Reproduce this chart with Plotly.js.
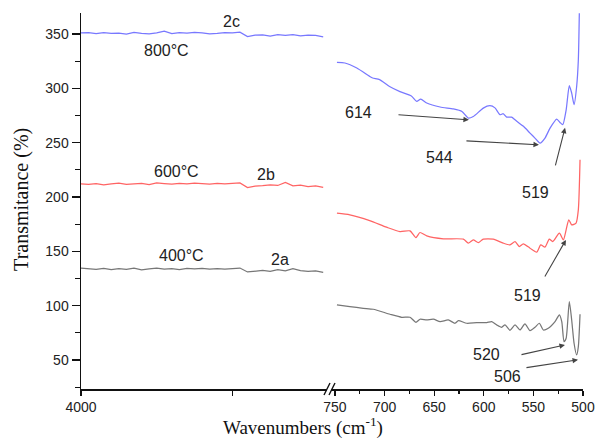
<!DOCTYPE html>
<html>
<head>
<meta charset="utf-8">
<script src="https://cdn.plot.ly/plotly-3.0.1.min.js"></script>
<style>html,body{margin:0;padding:0;background:#fff;}#chart{width:597px;height:441px;}</style>
</head>
<body>
<div id="chart"></div>
<script>
// ---- Left (compressed) segment: 4000 -> 800 cm-1 ----
const waveLeft = [4000,3900,3800,3700,3600,3500,3400,3300,3200,3100,3000,2900,2800,2700,2600,2500,2400,2300,2200,2100,2000,1900,1800,1700,1600,1500,1400,1300,1200,1100,1000,900,800];
const t800Left = [351.0,351.2,350.4,351.3,350.6,350.8,349.9,351.4,350.5,350.2,351.0,352.6,350.3,351.2,350.7,351.4,351.1,350.1,350.6,351.3,351.0,351.6,347.6,348.9,349.2,348.1,349.3,348.7,349.4,348.3,349.0,348.6,347.4];
const t600Left = [212.0,211.6,212.3,211.2,212.0,212.8,211.5,212.2,212.6,211.4,212.9,212.3,211.8,212.5,212.0,212.7,212.2,211.9,212.4,212.1,212.6,213.0,208.6,210.0,210.4,211.2,210.6,213.4,210.2,210.8,209.6,210.3,208.9];
const t400Left = [134.6,134.2,133.5,134.3,133.2,134.0,133.4,134.5,133.0,133.8,134.6,133.6,134.1,133.2,134.3,133.9,134.4,133.6,134.0,133.7,134.2,134.6,131.0,131.8,132.4,131.6,133.2,132.0,134.0,132.2,131.6,131.9,130.6];

// ---- Right (expanded) segment: 750 -> 500 cm-1 ----
const wave800R = [748,740,728,715,712,705,695,684.5,673,667.6,663.6,657.5,644,630.7,622,615.6,610.6,600.5,593.8,588.7,583.7,580.4,577,572,568.5,560,553.4,548.4,543.3,538.3,533.2,526.5,523.2,520.4,517,513.8,511.4,509,506.4,504.7,503.7];
const t800R =    [323.8,323.3,318.7,311,309.5,308,301.7,297,293,288,290,286.5,282.8,281,278.7,272.6,274,281.8,284,282,275.7,276.6,273.5,273.5,271,265,258.8,254.2,249.6,254.2,263.4,271.7,268.6,266.5,280,302.4,295.6,285,301.7,326,369];

const wave600R = [748,735,715,698,684.5,674.4,668.4,664.3,657.5,640.7,620.6,615.6,610.6,605.5,600.5,590.4,580.4,573.6,568.5,564.2,560.2,553.4,546.7,542.6,538.3,534,530.5,523.8,519.8,517,514.3,511.4,507,504.7,503];
const t600R =    [185.1,183.6,178.3,172.2,168.2,168.8,162.7,167.3,164.2,161.5,161.2,157.5,160.5,158,161.2,161.2,157.5,156,159,154.4,156.9,152.9,149.2,155.9,153.8,161.2,159,166.7,160.5,169.8,179,174.4,176,188.2,234.2];

const wave400R = [748,735,721.5,711.4,694.6,682.7,674.4,668.4,664.3,657.5,650.8,644,635.8,629,625.6,617.2,607.2,597.1,592,587,582,578.6,573.6,568.5,563.5,558.5,553.4,548.4,544,540,535,528.2,523.8,521.4,519.1,517,513.8,511.4,509,506.4,504.7,503];
const t400R =    [100.7,99.1,97.6,96.7,92.1,89.3,89.3,84.7,87.5,86.8,87.5,85.3,86.8,83.8,86.2,83.8,84.4,84.4,85.3,82.3,80.1,82.3,77.3,82.3,77.6,83.2,77,80.1,83.8,77.6,79.2,85.3,91.5,85.3,66.9,70,103.8,86.8,65.4,54.6,62.3,92];

// ---- Labels ----
const seriesLabels = [
  {text:'2c', x:2005, y:361.3}, {text:'800°C', x:2877, y:334.6},
  {text:'600°C', x:2732, y:223.2}, {text:'2b', x:1556, y:220.4},
  {text:'400°C', x:2666, y:145.8}, {text:'2a', x:1371, y:142.1}
];
const peakLabels = [
  {text:'614', x:725.8, y:277.5}, {text:'544', x:644.2, y:236},
  {text:'519', x:547.4, y:203.9}, {text:'519', x:555.5, y:109},
  {text:'520', x:596.8, y:54.6}, {text:'506', x:576.6, y:34.4}
];
const peakArrows = [
  {ax:687.5, ay:275.7, x:615, y:271},
  {ax:619, ay:251.7, x:544.4, y:248},
  {ax:528.2, ay:227.8, x:518.1, y:263.7},
  {ax:539.3, ay:125.5, x:517.2, y:160.5},
  {ax:563.5, ay:54.6, x:518.2, y:63.8},
  {ax:558.5, ay:42.8, x:505, y:50.2}
];

const cBlue = '#7878ff', cRed = '#ff6464', cGray = '#777777';
const lw = 1.25;
const traces = [
  {x:waveLeft, y:t800Left, xaxis:'x', yaxis:'y', mode:'lines', line:{color:cBlue, width:lw}},
  {x:waveLeft, y:t600Left, xaxis:'x', yaxis:'y', mode:'lines', line:{color:cRed, width:lw}},
  {x:waveLeft, y:t400Left, xaxis:'x', yaxis:'y', mode:'lines', line:{color:cGray, width:lw}},
  {x:wave800R, y:t800R, xaxis:'x2', yaxis:'y', mode:'lines', line:{color:cBlue, width:lw, shape:'spline', smoothing:0.6}},
  {x:wave600R, y:t600R, xaxis:'x2', yaxis:'y', mode:'lines', line:{color:cRed, width:lw, shape:'spline', smoothing:0.6}},
  {x:wave400R, y:t400R, xaxis:'x2', yaxis:'y', mode:'lines', line:{color:cGray, width:lw, shape:'spline', smoothing:0.6}}
];

const sansFont = {family:'Liberation Sans, Arial, sans-serif', size:16, color:'#222'};
const annotations = [];
seriesLabels.forEach(l => annotations.push({xref:'x', yref:'y', x:l.x, y:l.y, text:l.text, showarrow:false, font:sansFont}));
peakLabels.forEach(l => annotations.push({xref:'x2', yref:'y', x:l.x, y:l.y, text:l.text, showarrow:false, font:sansFont}));
peakArrows.forEach(a => annotations.push({xref:'x2', yref:'y', axref:'x2', ayref:'y', x:a.x, y:a.y, ax:a.ax, ay:a.ay, text:'', showarrow:true, arrowhead:2, arrowsize:1, arrowwidth:1.1, arrowcolor:'#444'}));
// axis titles
const serif = 'Liberation Serif, Times New Roman, serif';
annotations.push({xref:'paper', yref:'paper', x:-0.1175, y:0.503, text:'Transmitance (%)', textangle:-90, showarrow:false, xanchor:'center', yanchor:'middle', font:{family:serif, size:20, color:'#111'}});
annotations.push({xref:'paper', yref:'paper', x:0.442, y:-0.1, text:'Wavenumbers (cm<sup>-1</sup>)', showarrow:false, xanchor:'center', yanchor:'middle', font:{family:serif, size:19, color:'#111'}});

// break marks (paper coords) px->paper: x=(px-81)/502, y=(389-py)/376
function px(x){return (x-81)/502;} function py(y){return (389-y)/376;}
const shapes = [
  {type:'line', xref:'paper', yref:'paper', x0:px(324), y0:py(395), x1:px(330), y1:py(383), line:{color:'#111', width:1.4}},
  {type:'line', xref:'paper', yref:'paper', x0:px(329), y0:py(395), x1:px(335), y1:py(383), line:{color:'#111', width:1.4}}
];

const tickFont = {family:'Liberation Sans, Arial, sans-serif', size:14, color:'#222'};
const layout = {
  width:597, height:441,
  margin:{l:81, r:14, t:13, b:52},
  paper_bgcolor:'#fff', plot_bgcolor:'#fff',
  showlegend:false,
  xaxis:{domain:[0,0.49], range:[4000,750], showline:true, linecolor:'#111', linewidth:1.5,
         tickvals:[4000,2000], ticktext:['4000',''], ticks:'outside', ticklen:5, tickwidth:1.2, tickcolor:'#111',
         showgrid:false, zeroline:false, tickfont:tickFont, anchor:'y'},
  xaxis2:{domain:[0.498,1], range:[754,500], showline:true, linecolor:'#111', linewidth:1.5,
          tickmode:'linear', tick0:500, dtick:50, ticks:'outside', ticklen:5, tickwidth:1.2, tickcolor:'#111',
          minor:{dtick:25, tick0:500, ticks:'outside', ticklen:3, tickcolor:'#111', showgrid:false},
          showgrid:false, zeroline:false, tickfont:tickFont, anchor:'y'},
  yaxis:{range:[23.3,369.3], showline:true, linecolor:'#111', linewidth:1.5,
         tickmode:'linear', tick0:0, dtick:50, ticks:'outside', ticklen:8, tickwidth:1.2, tickcolor:'#111',
         minor:{dtick:25, tick0:0, ticks:'outside', ticklen:5, tickcolor:'#111', showgrid:false},
         showgrid:false, zeroline:false, tickfont:tickFont, anchor:'x'},
  annotations:annotations,
  shapes:shapes
};
Plotly.newPlot('chart', traces, layout, {staticPlot:true, displayModeBar:false});
</script>
</body>
</html>
